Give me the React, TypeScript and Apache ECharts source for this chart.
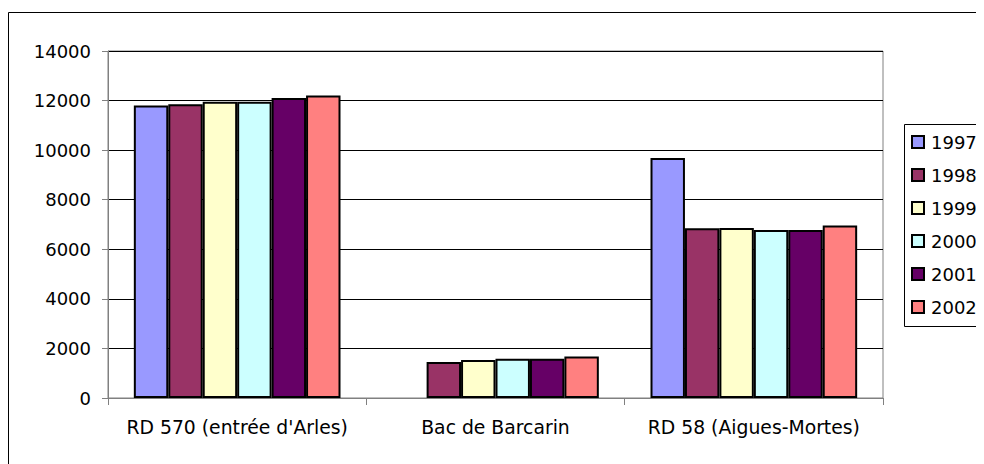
import React, { useEffect, useRef } from "react";
import * as echarts from "echarts";

const categories = ["RD 570 (entrée d'Arles)", "Bac de Barcarin", "RD 58 (Aigues-Mortes)"];
const years = ["1997", "1998", "1999", "2000", "2001", "2002"];
const colors = ["#9999FF", "#993366", "#FFFFCC", "#CCFFFF", "#660066", "#FF8080"];
const v1997 = [11800, null, 9680];
const v1998 = [11850, 1450, 6850];
const v1999 = [11950, 1530, 6860];
const v2000 = [11950, 1580, 6780];
const v2001 = [12100, 1580, 6780];
const v2002 = [12200, 1670, 6960];
const seriesValues = [v1997, v1998, v1999, v2000, v2001, v2002];
const yTicks = { min: 0, max: 14000, interval: 2000 };

const FONT = "'DejaVu Sans', sans-serif";
const FS = 18;
const FSX = 18.8;

export default function App() {
  const ref = useRef<HTMLDivElement>(null);
  useEffect(() => {
    if (!ref.current) return;
    document.documentElement.style.overflow = "hidden";
    document.body.style.overflow = "hidden";
    const chart = echarts.init(ref.current, undefined, { renderer: "svg" });
    chart.setOption({
      animation: false,
      backgroundColor: "#ffffff",
      textStyle: { fontFamily: FONT, color: "#000" },
      graphic: [
        {
          type: "rect",
          shape: { x: 0.5, y: 4.5, width: 1200, height: 1200 },
          style: { fill: "none", stroke: "#000", lineWidth: 1 },
          z: 0,
        },
        {
          type: "rect",
          shape: { x: 896.5, y: 116.5, width: 200, height: 202 },
          style: { fill: "#fff", stroke: "#000", lineWidth: 1 },
          z: 1,
        },
      ],
      grid: {
        left: 100,
        top: 43,
        right: 101,
        bottom: 66,
        show: true,
        borderColor: "#808080",
        borderWidth: 1,
        backgroundColor: "transparent",
      },
      legend: {
        orient: "vertical",
        left: 903,
        top: 125,
        padding: 0,
        itemGap: 15,
        itemWidth: 12,
        itemHeight: 12,
        icon: "rect",
        itemStyle: { borderColor: "#000", borderWidth: 2 },
        textStyle: { fontFamily: FONT, fontSize: FS, color: "#000", padding: [0, 0, 0, 2] },
        z: 5,
      },
      xAxis: {
        type: "category",
        data: categories,
        axisLine: { show: true, lineStyle: { color: "#808080", width: 1 } },
        axisTick: { show: true, length: 7, interval: 0, lineStyle: { color: "#808080" } },
        axisLabel: { fontFamily: FONT, fontSize: FSX, color: "#000", margin: 20, interval: 0 },
        splitLine: { show: false },
      },
      yAxis: {
        type: "value",
        min: yTicks.min,
        max: yTicks.max,
        interval: yTicks.interval,
        axisLine: { show: true, lineStyle: { color: "#808080", width: 1 } },
        axisTick: { show: true, length: 6, lineStyle: { color: "#808080" } },
        axisLabel: {
          fontFamily: FONT,
          fontSize: FS,
          color: "#000",
          margin: 17,
          formatter: (v: number) => String(v),
        },
        splitLine: { show: true, lineStyle: { color: "#000", width: 1 } },
      },
      series: years.map((y, i) => ({
        name: y,
        type: "bar",
        data: seriesValues[i],
        barGap: "0%",
        barCategoryGap: "20%",
        itemStyle: { color: colors[i], borderColor: "#000", borderWidth: 2 },
      })),
    });
    return () => chart.dispose();
  }, []);
  return <div ref={ref} style={{ width: 976, height: 456 }} />;
}
